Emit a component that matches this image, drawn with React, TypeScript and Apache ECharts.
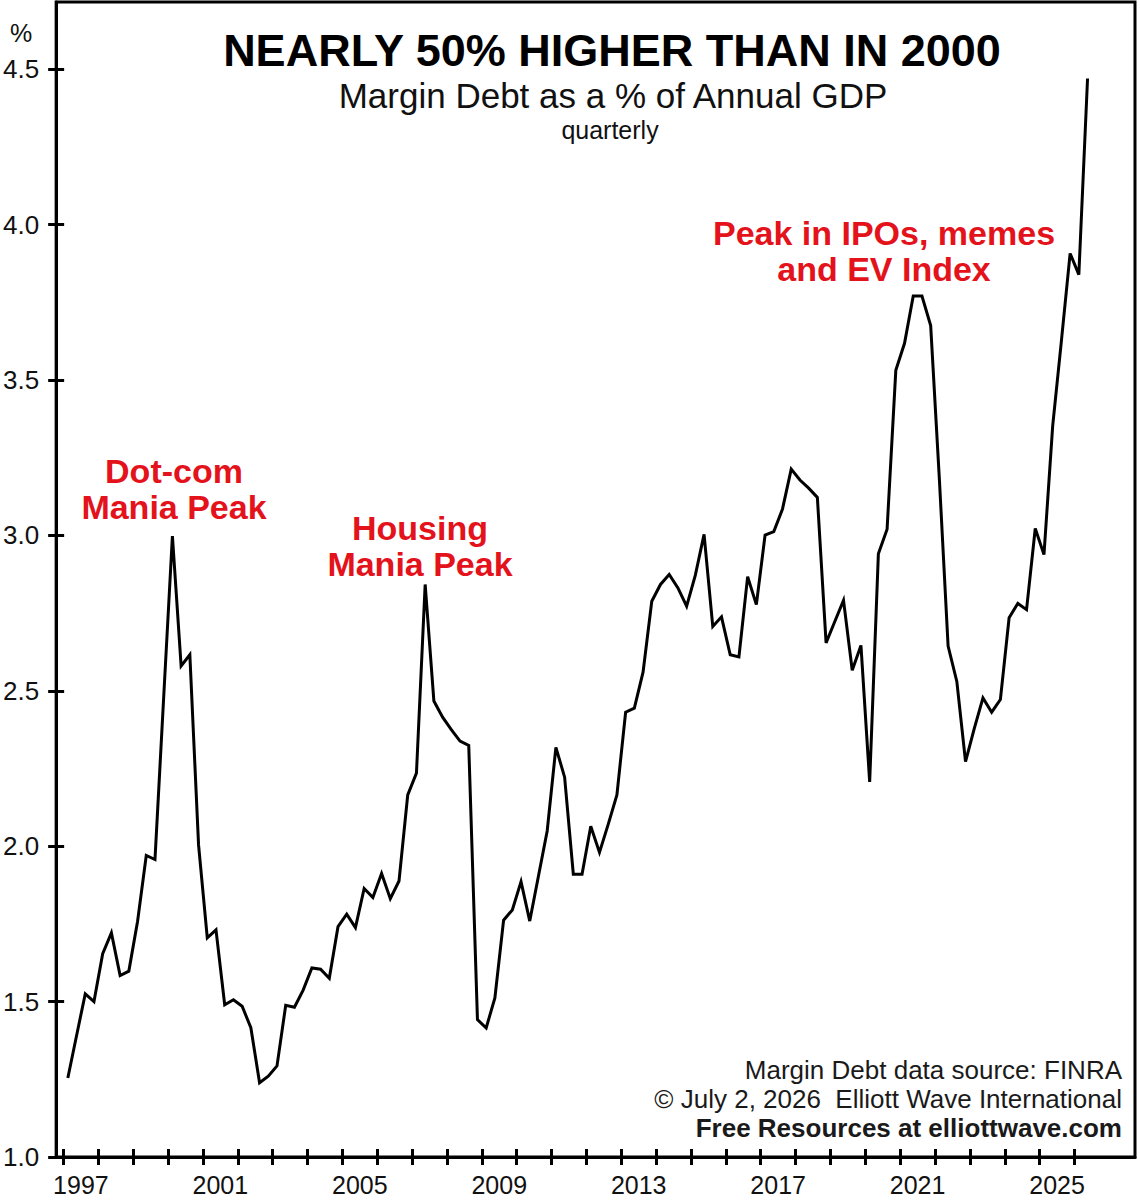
import React, { useEffect, useRef } from "react";
import * as echarts from "echarts";

// ---- Data ----
const START_YEAR = 1997; // first quarter plotted: 1997 Q1
// Margin debt as % of annual GDP, quarterly, 1997 Q1 .. 2026 Q2
const marginDebtPctGdp: number[] = [
  1.254, 1.39, 1.525, 1.5, 1.654, 1.721, 1.584, 1.598, 1.758, 1.97,
  1.957, 2.48, 2.998, 2.58, 2.616, 2.004, 1.705, 1.731, 1.49, 1.506,
  1.485, 1.416, 1.239, 1.26, 1.293, 1.488, 1.482, 1.537, 1.608, 1.604,
  1.575, 1.741, 1.781, 1.738, 1.864, 1.835, 1.912, 1.831, 1.888, 2.165,
  2.235, 2.842, 2.467, 2.415, 2.375, 2.338, 2.324, 1.442, 1.415, 1.512,
  1.762, 1.795, 1.886, 1.759, 1.904, 2.049, 2.318, 2.222, 1.91, 1.91,
  2.064, 1.98, 2.07, 2.165, 2.431, 2.444, 2.56, 2.788, 2.842, 2.874,
  2.831, 2.772, 2.872, 3.003, 2.707, 2.738, 2.616, 2.609, 2.867, 2.777,
  3.001, 3.012, 3.085, 3.213, 3.178, 3.152, 3.122, 2.654, 2.723, 2.791,
  2.566, 2.646, 2.207, 2.941, 3.02, 3.531, 3.618, 3.77, 3.77, 3.675,
  3.18, 2.644, 2.53, 2.272, 2.378, 2.477, 2.431, 2.472, 2.735, 2.781,
  2.761, 3.022, 2.938, 3.352, 3.626, 3.907, 3.839, 4.47,
];

const yearTicks: number[] = [
  1997, 1998, 1999, 2000, 2001, 2002, 2003, 2004, 2005, 2006,
  2007, 2008, 2009, 2010, 2011, 2012, 2013, 2014, 2015, 2016,
  2017, 2018, 2019, 2020, 2021, 2022, 2023, 2024, 2025, 2026,
];
const yearLabels: number[] = [1997, 2001, 2005, 2009, 2013, 2017, 2021, 2025];
const valueTicks: number[] = [1.0, 1.5, 2.0, 2.5, 3.0, 3.5, 4.0, 4.5];

const titleText = "NEARLY 50% HIGHER THAN IN 2000";
const subtitleText = "Margin Debt as a % of Annual GDP";
const frequencyText = "quarterly";
const unitText = "%";
const annotations = [
  { lines: ["Dot-com", "Mania Peak"], x: 174, y: 471 },
  { lines: ["Housing", "Mania Peak"], x: 420, y: 528 },
  { lines: ["Peak in IPOs, memes", "and EV Index"], x: 884, y: 233 },
];
const credits = [
  { text: "Margin Debt data source: FINRA", bold: false },
  { text: "\u00A9 July 2, 2026  Elliott Wave International", bold: false },
  { text: "Free Resources at elliottwave.com", bold: true },
];

const FONT = '"Liberation Sans", Arial, Helvetica, sans-serif';
const RED = "#e3121b";

export default function App() {
  const ref = useRef<HTMLDivElement>(null);

  useEffect(() => {
    if (!ref.current) return;
    const chart = echarts.init(ref.current, undefined, { renderer: "svg" });

    const seriesData = marginDebtPctGdp.map((v, i) => [
      START_YEAR + (i + 0.5) / 4,
      v,
    ]);

    const xMin = 1996.79;
    const xMax = 2027.736;
    const yMin = 1.0;
    const yMax = 4.716;

    const tickStyle = { color: "#000", width: 3 };

    const centered = (text: string, x: number, y: number, font: string, fill: string) => ({
      type: "text",
      x,
      y,
      style: {
        text,
        font,
        fill,
        textAlign: "center",
        textVerticalAlign: "middle",
        align: "center",
        verticalAlign: "middle",
      },
    });

    const graphics: any[] = [];
    graphics.push(centered(unitText, 21, 33, `25px ${FONT}`, "#111"));
    graphics.push(centered(titleText, 612, 50, `bold 45px ${FONT}`, "#000"));
    graphics.push(centered(subtitleText, 613, 95, `35px ${FONT}`, "#111"));
    graphics.push(centered(frequencyText, 610, 130, `25px ${FONT}`, "#111"));
    annotations.forEach((a) => {
      a.lines.forEach((line, k) => {
        graphics.push(centered(line, a.x, a.y + k * 36, `bold 34px ${FONT}`, RED));
      });
    });
    credits.forEach((c, k) => {
      graphics.push({
        type: "text",
        x: 1122,
        y: 1070 + k * 29,
        style: {
          text: c.text,
          font: `${c.bold ? "bold " : ""}26px ${FONT}`,
          fill: "#1a1a1a",
          textAlign: "right",
          textVerticalAlign: "middle",
          align: "right",
          verticalAlign: "middle",
        },
      });
    });

    chart.setOption({
      animation: false,
      backgroundColor: "#fff",
      grid: {
        left: 55,
        right: 5,
        top: 2,
        bottom: 43,
        show: true,
        borderColor: "#000",
        borderWidth: 3,
        backgroundColor: "transparent",
      },
      xAxis: [
        {
          type: "value",
          min: xMin,
          max: xMax,
          position: "bottom",
          axisLine: { show: true, onZero: false, lineStyle: tickStyle },
          axisTick: {
            show: true,
            customValues: yearTicks,
            length: 8,
            lineStyle: tickStyle,
          },
          axisLabel: {
            show: true,
            customValues: yearLabels.map((y) => y + 0.5),
            formatter: (v: number) => String(Math.floor(v)),
            fontSize: 25,
            lineHeight: 26,
            fontFamily: FONT,
            color: "#111",
            margin: 15,
          },
          splitLine: { show: false },
        },
        {
          type: "value",
          min: xMin,
          max: xMax,
          position: "bottom",
          axisLine: { show: false, onZero: false },
          axisTick: {
            show: true,
            inside: true,
            customValues: yearTicks,
            length: 8,
            lineStyle: tickStyle,
          },
          axisLabel: { show: false },
          splitLine: { show: false },
        },
      ],
      yAxis: [
        {
          type: "value",
          min: yMin,
          max: yMax,
          position: "left",
          axisLine: { show: true, onZero: false, lineStyle: tickStyle },
          axisTick: {
            show: true,
            customValues: valueTicks,
            length: 8,
            lineStyle: tickStyle,
          },
          axisLabel: {
            show: true,
            customValues: valueTicks,
            formatter: (v: number) => v.toFixed(1),
            fontSize: 26,
            fontFamily: FONT,
            color: "#111",
            margin: 17,
          },
          splitLine: { show: false },
        },
        {
          type: "value",
          min: yMin,
          max: yMax,
          position: "left",
          axisLine: { show: false, onZero: false },
          axisTick: {
            show: true,
            inside: true,
            customValues: valueTicks,
            length: 8,
            lineStyle: tickStyle,
          },
          axisLabel: { show: false },
          splitLine: { show: false },
        },
      ],
      series: [
        {
          type: "line",
          data: seriesData,
          xAxisIndex: 0,
          yAxisIndex: 0,
          showSymbol: false,
          symbol: "none",
          lineStyle: { color: "#000", width: 3, join: "miter", miterLimit: 10 },
          z: 3,
        },
      ],
      graphic: graphics,
    });

    return () => {
      chart.dispose();
    };
  }, []);

  return (
    <div
      ref={ref}
      style={{
        position: "absolute",
        left: 0,
        top: 0,
        width: 1140,
        height: 1200,
        background: "#fff",
      }}
    />
  );
}
